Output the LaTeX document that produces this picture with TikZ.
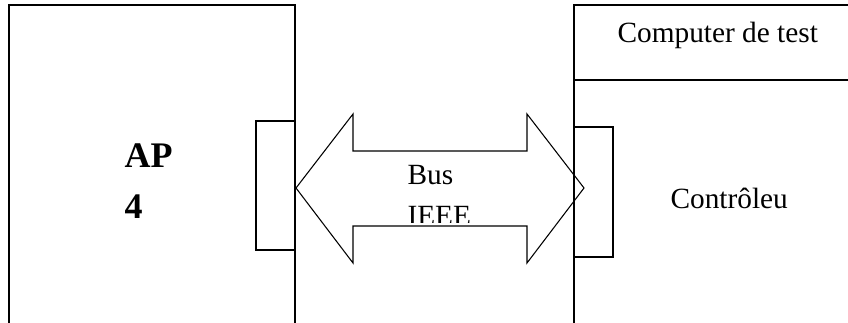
\documentclass[tikz,border=0pt]{standalone}
\usepackage{fontspec}
\setmainfont{Liberation Serif}
\begin{document}
\begin{tikzpicture}[x=0.75pt,y=-0.75pt,line width=0.8pt,
  lbl/.style={inner sep=0pt,anchor=base west,font=\fontsize{22}{26}\selectfont},
  big/.style={inner sep=0pt,anchor=base west,font=\fontsize{27}{32}\selectfont\bfseries}]
\useasboundingbox (0,0) rectangle (848,323);
% left device
\draw (9,323) -- (9,5) -- (295,5) -- (295,323);
\draw (295,121) -- (256,121) -- (256,250) -- (295,250);
\node[big] (ap) at (124,168) {AP};
\node[big] (four) at (124,219) {4};
% right device
\draw (574,323) -- (574,5) -- (848,5);
\draw (574,80) -- (848,80);
\draw (574,127) -- (613,127) -- (613,257) -- (574,257);
\node[lbl] (comp) at (617,43) {Computer de test};
\node[lbl] (ctrl) at (670,209) {Contrôleu};
% bus arrow
\draw[line join=miter] (296,188) -- (353,114) -- (353,151) -- (527,151) -- (527,114)
  -- (584,188) -- (527,263) -- (527,226) -- (353,226) -- (353,263) -- cycle;
\node[lbl] (bus) at (407,185) {Bus};
\begin{scope}
  \clip (353,151) rectangle (527,222.5);
  \node[lbl] (ieee) at (407,225.5) {IEEE};
\end{scope}
\end{tikzpicture}
\end{document}
